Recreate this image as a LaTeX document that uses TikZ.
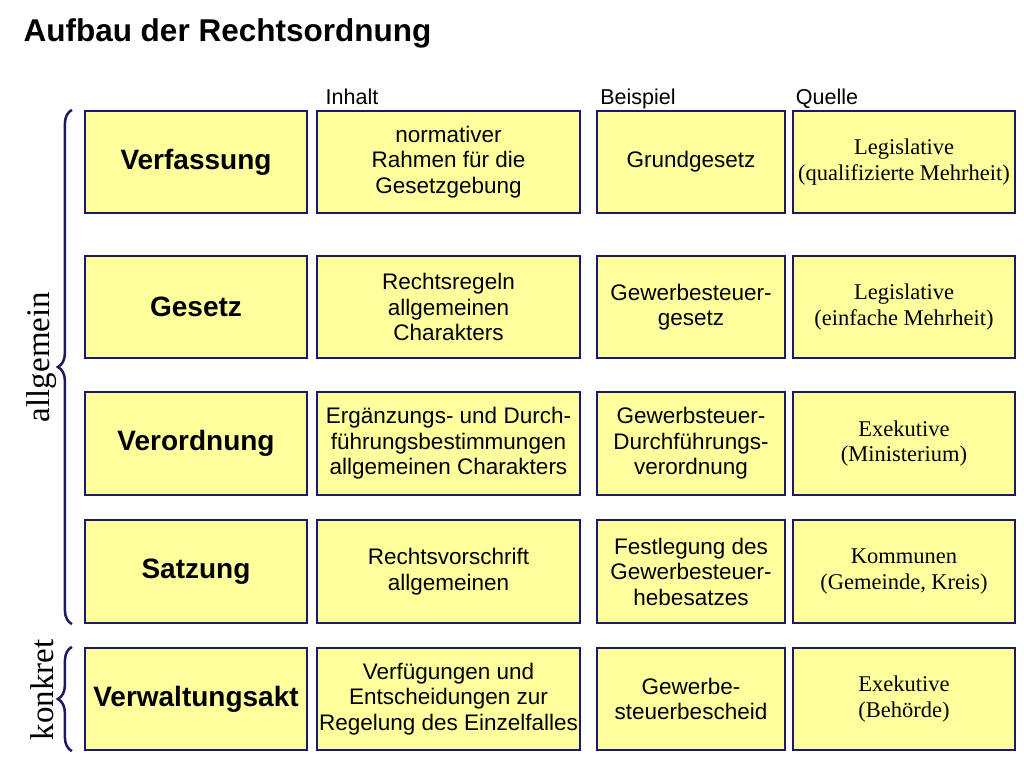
\documentclass[tikz,border=0pt]{standalone}
\usepackage{fontspec}
\setmainfont{Liberation Sans}
\newfontfamily\serifont{Liberation Serif}
\usetikzlibrary{decorations.pathreplacing}
\definecolor{bx}{HTML}{FFFF9E}
\definecolor{nv}{HTML}{1A1A66}
\begin{document}
\begin{tikzpicture}[x=1pt,y=-1pt,
 cell/.style={draw=nv,line width=2.2pt,fill=bx,align=center,inner sep=0pt},
 t/.style={font=\fontsize{22.5}{25.5}\selectfont},
 h/.style={font=\fontsize{28}{32}\selectfont\bfseries},
 q/.style={font=\serifont\fontsize{22.5}{25.5}\selectfont},
 br/.style={draw=nv,line width=2.5pt,decorate,decoration={brace,amplitude=14pt}}]
\useasboundingbox (0,0) rectangle (1024,768);
\node[anchor=west,font=\fontsize{31.5}{36}\selectfont\bfseries] (title) at (20,33) {Aufbau der Rechtsordnung};
\node[font=\fontsize{21.5}{24}\selectfont] (hi) at (352,97) {Inhalt};
\node[font=\fontsize{21.5}{24}\selectfont] (hb) at (638,99) {Beispiel};
\node[font=\fontsize{21.5}{24}\selectfont] (hq) at (827,99) {Quelle};
\def\row#1#2#3#4#5#6#7{%
 \node[cell,h,minimum width=222pt,minimum height=#2pt] (a#1) at (196,#3) {#4};
 \node[cell,t,minimum width=263pt,minimum height=#2pt] (b#1) at (448.5,#3) {#5};
 \node[cell,t,minimum width=188pt,minimum height=#2pt] (c#1) at (691,#3) {#6};
 \node[cell,q,minimum width=222pt,minimum height=#2pt] (d#1) at (904,#3) {#7};}
\row{1}{102}{162}{Verfassung}{normativer\\Rahmen für die\\Gesetzgebung}{Grundgesetz}{Legislative\\(qualifizierte Mehrheit)}
\row{2}{102}{307}{Gesetz}{Rechtsregeln\\allgemeinen\\Charakters}{Gewerbesteuer-\\gesetz}{Legislative\\(einfache Mehrheit)}
\row{3}{103}{443.5}{Verordnung}{Ergänzungs- und Durch-\\führungsbestimmungen\\allgemeinen Charakters}{Gewerbsteuer-\\Durchführungs-\\verordnung}{Exekutive\\(Ministerium)}
\row{4}{103}{571.5}{Satzung}{Rechtsvorschrift\\allgemeinen}{Festlegung des\\Gewerbesteuer-\\hebesatzes}{Kommunen\\(Gemeinde, Kreis)}
\row{5}{102}{699}{Verwaltungsakt}{Verfügungen und\\Entscheidungen zur\\Regelung des Einzelfalles}{Gewerbe-\\steuerbescheid}{Exekutive\\(Behörde)}
\draw[br] ([xshift=-12pt]a4.south west) -- ([xshift=-12pt]a1.north west);
\draw[br] ([xshift=-12pt]a5.south west) -- ([xshift=-12pt]a5.north west);
\node[rotate=90,font=\serifont\fontsize{33}{36}\selectfont] (lall) at (42,357) {allgemein};
\node[rotate=90,font=\serifont\fontsize{33}{36}\selectfont] (lkon) at (42,690) {konkret};
\end{tikzpicture}
\end{document}
